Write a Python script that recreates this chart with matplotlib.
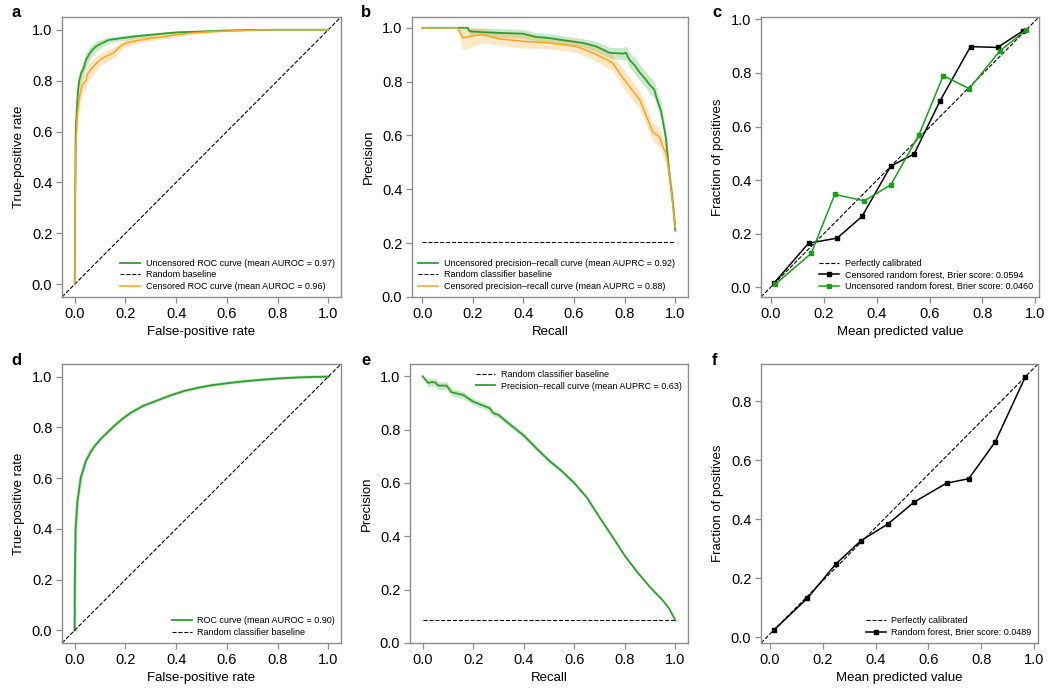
import matplotlib
matplotlib.use("Agg")
import matplotlib.pyplot as plt
import numpy as np

plt.rcParams['font.family'] = ['Liberation Sans', 'DejaVu Sans']

# ---------------- data ----------------
# Panel a: ROC (censored vs uncensored)
a_fpr_unc = [0, 0.002, 0.004, 0.009, 0.013, 0.018, 0.026, 0.036, 0.044, 0.055, 0.069, 0.085, 0.103,
             0.135, 0.17, 0.209, 0.25, 0.3, 0.35, 0.407, 0.5, 0.6, 0.7, 0.8, 0.9, 1.0]
a_tpr_unc = [0, 0.33, 0.6, 0.7, 0.76, 0.8, 0.83, 0.85, 0.88, 0.9, 0.92, 0.935, 0.945,
             0.96, 0.965, 0.97, 0.975, 0.98, 0.985, 0.99, 0.993, 0.997, 0.999, 1.0, 1.0, 1.0]
a_band_unc = [0, 0.03, 0.04, 0.04, 0.04, 0.035, 0.03, 0.03, 0.03, 0.025, 0.022, 0.02, 0.016,
              0.012, 0.01, 0.01, 0.008, 0.006, 0.005, 0.004, 0.003, 0.002, 0.001, 0, 0, 0]
a_fpr_cen = [0, 0.002, 0.005, 0.01, 0.017, 0.022, 0.03, 0.045, 0.05, 0.065, 0.077, 0.09, 0.103, 0.12,
             0.143, 0.155, 0.176, 0.196, 0.22, 0.249, 0.293, 0.34, 0.4, 0.473, 0.55, 0.65, 0.75, 0.85, 1.0]
a_tpr_cen = [0, 0.3, 0.55, 0.66, 0.72, 0.75, 0.785, 0.8, 0.826, 0.845, 0.859, 0.872, 0.885, 0.893,
             0.905, 0.91, 0.932, 0.945, 0.952, 0.958, 0.966, 0.971, 0.98, 0.988, 0.993, 0.997, 1.0, 1.0, 1.0]
a_band_cen = [0, 0.03, 0.04, 0.045, 0.045, 0.04, 0.035, 0.035, 0.03, 0.03, 0.03, 0.028, 0.025, 0.025,
              0.022, 0.02, 0.018, 0.015, 0.014, 0.012, 0.01, 0.009, 0.008, 0.006, 0.004, 0.002, 0, 0, 0]

# Panel b: precision-recall (censored vs uncensored)
b_rec_unc = [0, 0.18, 0.187, 0.25, 0.305, 0.397, 0.45, 0.5, 0.555, 0.634, 0.687, 0.74, 0.792, 0.805,
             0.818, 0.84, 0.858, 0.884, 0.897, 0.917, 0.924, 0.944, 0.95, 0.963, 0.976, 0.99, 1.0]
b_prec_unc = [1.0, 1.0, 0.987, 0.983, 0.981, 0.978, 0.966, 0.962, 0.954, 0.944, 0.931, 0.907, 0.904, 0.907,
              0.882, 0.86, 0.835, 0.807, 0.79, 0.77, 0.745, 0.689, 0.657, 0.589, 0.46, 0.352, 0.247]
b_band_unc = [0, 0, 0.012, 0.015, 0.016, 0.016, 0.016, 0.016, 0.016, 0.016, 0.018, 0.02, 0.022, 0.025,
              0.028, 0.03, 0.03, 0.03, 0.03, 0.03, 0.03, 0.03, 0.03, 0.03, 0.03, 0.025, 0.02]
b_rec_cen = [0, 0.14, 0.16, 0.2, 0.24, 0.305, 0.397, 0.5, 0.608, 0.674, 0.727, 0.752, 0.77, 0.792,
             0.805, 0.832, 0.858, 0.871, 0.884, 0.897, 0.91, 0.937, 0.95, 0.963, 0.97, 0.976, 0.983, 0.996, 1.0]
b_prec_cen = [1.0, 1.0, 0.963, 0.97, 0.975, 0.959, 0.95, 0.944, 0.931, 0.907, 0.882, 0.87, 0.845, 0.815,
              0.8, 0.765, 0.735, 0.707, 0.676, 0.645, 0.614, 0.595, 0.56, 0.535, 0.5, 0.458, 0.402, 0.29, 0.26]
b_band_cen = [0, 0, 0.045, 0.04, 0.03, 0.025, 0.025, 0.022, 0.022, 0.025, 0.028, 0.03, 0.032, 0.035,
              0.035, 0.035, 0.035, 0.035, 0.035, 0.035, 0.035, 0.035, 0.035, 0.035, 0.035, 0.035, 0.035, 0.03, 0.02]
b_baseline = 0.204

# Panel c: calibration curves
c_pred_cen = [0.011, 0.143, 0.251, 0.345, 0.453, 0.542, 0.64, 0.755, 0.857, 0.952]
c_frac_cen = [0.015, 0.165, 0.184, 0.265, 0.452, 0.498, 0.696, 0.898, 0.895, 0.956]
c_pred_unc = [0.017, 0.153, 0.242, 0.354, 0.454, 0.56, 0.652, 0.75, 0.865, 0.966]
c_frac_unc = [0.012, 0.127, 0.347, 0.323, 0.383, 0.569, 0.79, 0.741, 0.881, 0.961]

# Panel d: ROC
d_fpr = [0, 0.0005, 0.002, 0.004, 0.011, 0.024, 0.044, 0.063, 0.08, 0.103, 0.13, 0.156, 0.19,
         0.222, 0.27, 0.328, 0.38, 0.433, 0.49, 0.539, 0.6, 0.671, 0.74, 0.803, 0.9, 1.0]
d_tpr = [0, 0.15, 0.3, 0.404, 0.509, 0.601, 0.667, 0.703, 0.728, 0.755, 0.781, 0.806, 0.835,
         0.858, 0.885, 0.907, 0.927, 0.944, 0.957, 0.966, 0.974, 0.982, 0.988, 0.993, 0.998, 1.0]

# Panel e: precision-recall
e_rec = [0, 0.022, 0.035, 0.049, 0.062, 0.095, 0.114, 0.16, 0.2, 0.266, 0.279, 0.3, 0.345, 0.4,
         0.45, 0.5, 0.55, 0.6, 0.65, 0.7, 0.75, 0.8, 0.85, 0.9, 0.95, 0.975, 1.0]
e_prec = [1.0, 0.975, 0.978, 0.977, 0.965, 0.965, 0.94, 0.93, 0.905, 0.88, 0.862, 0.855, 0.82, 0.778,
          0.73, 0.684, 0.645, 0.6, 0.545, 0.471, 0.4, 0.327, 0.265, 0.209, 0.16, 0.13, 0.085]
e_band = [0.005, 0.015, 0.015, 0.015, 0.015, 0.014, 0.014, 0.013, 0.012, 0.012, 0.011, 0.011, 0.01, 0.01,
          0.009, 0.009, 0.008, 0.008, 0.007, 0.007, 0.006, 0.005, 0.005, 0.004, 0.004, 0.003, 0.002]
e_baseline = 0.085

# Panel f: calibration
f_pred = [0.015, 0.143, 0.249, 0.345, 0.446, 0.546, 0.668, 0.752, 0.852, 0.966]
f_frac = [0.024, 0.133, 0.248, 0.328, 0.384, 0.459, 0.523, 0.538, 0.663, 0.884]

# ---------------- style ----------------
GREEN = '#2ca02c'
ORANGE = '#ffa31a'
CAL_GREEN = '#16a016'
SPINE = '#8c8c8c'

fig = plt.figure(figsize=(10.5, 6.88), dpi=100)
W, H = 1050, 688


def add_ax(x0, y0, x1, y1):
    return fig.add_axes([x0 / W, 1 - y1 / H, (x1 - x0) / W, (y1 - y0) / H])


def style(ax, xlabel, ylabel, letter, lx, ly):
    for s in ax.spines.values():
        s.set_color(SPINE)
        s.set_linewidth(1.0)
    ax.tick_params(axis='both', which='both', direction='out', length=4, width=0.9,
                   color=SPINE, labelsize=10.5, labelcolor='black', pad=3)
    ax.set_xlabel(xlabel, fontsize=9.5, labelpad=4)
    ax.set_ylabel(ylabel, fontsize=9.5, labelpad=5)
    fig.text(lx / W, 1 - ly / H, letter, fontsize=12, fontweight='bold',
             va='baseline', ha='left')


def legend(ax, loc, **kw):
    return ax.legend(loc=loc, frameon=False, fontsize=6.5, handlelength=2.2, handletextpad=0.6,
                     labelspacing=0.25, borderaxespad=0.3, **kw)

ticks = [0.0, 0.2, 0.4, 0.6, 0.8, 1.0]

# Panel a
ax = add_ax(62, 17, 341, 297)
ax.fill_between(a_fpr_unc, np.array(a_tpr_unc) - a_band_unc, np.minimum(np.array(a_tpr_unc) + a_band_unc, 1.0),
                color=GREEN, alpha=0.25, lw=0)
ax.fill_between(a_fpr_cen, np.array(a_tpr_cen) - a_band_cen, np.minimum(np.array(a_tpr_cen) + a_band_cen, 1.0),
                color=ORANGE, alpha=0.25, lw=0)
ax.plot(a_fpr_unc, a_tpr_unc, color=GREEN, lw=1.3, label='Uncensored ROC curve (mean AUROC = 0.97)')
ax.plot([0, 1], [0, 1], transform=ax.transAxes, ls='--', color='black', lw=0.8, label='Random baseline')
ax.plot(a_fpr_cen, a_tpr_cen, color=ORANGE, lw=1.1, label='Censored ROC curve (mean AUROC = 0.96)')
ax.set_xlim(-0.05, 1.05); ax.set_ylim(-0.05, 1.05)
ax.set_xticks(ticks); ax.set_yticks(ticks)
style(ax, 'False-positive rate', 'True-positive rate', 'a', 11, 17)
legend(ax, 'lower right')

# Panel b
ax = add_ax(412, 17, 688, 297)
ax.fill_between(b_rec_unc, np.array(b_prec_unc) - b_band_unc, np.minimum(np.array(b_prec_unc) + b_band_unc, 1.0),
                color=GREEN, alpha=0.25, lw=0)
ax.fill_between(b_rec_cen, np.array(b_prec_cen) - b_band_cen, np.minimum(np.array(b_prec_cen) + b_band_cen, 1.0),
                color=ORANGE, alpha=0.25, lw=0)
ax.plot(b_rec_unc, b_prec_unc, color=GREEN, lw=1.3,
        label='Uncensored precision\u2013recall curve (mean AUPRC = 0.92)')
ax.plot([0, 1], [b_baseline, b_baseline], ls='--', color='black', lw=0.8, label='Random classifier baseline')
ax.plot(b_rec_cen, b_prec_cen, color=ORANGE, lw=1.1,
        label='Censored precision\u2013recall curve (mean AUPRC = 0.88)')
ax.set_xlim(-0.04, 1.05); ax.set_ylim(0, 1.04)
ax.set_xticks(ticks); ax.set_yticks(ticks)
style(ax, 'Recall', 'Precision', 'b', 361, 17)
legend(ax, 'lower left')

# Panel c
ax = add_ax(761, 17, 1039, 297)
ax.plot([0, 1], [0, 1], transform=ax.transAxes, ls='--', color='black', lw=0.8, label='Perfectly calibrated')
ax.plot(c_pred_cen, c_frac_cen, marker='s', ms=3.5, color='black', lw=1.1,
        label='Censored random forest, Brier score: 0.0594')
ax.plot(c_pred_unc, c_frac_unc, marker='s', ms=3.5, color=CAL_GREEN, lw=1.1,
        label='Uncensored random forest, Brier score: 0.0460')
ax.set_xticks(ticks); ax.set_yticks(ticks)
style(ax, 'Mean predicted value', 'Fraction of positives', 'c', 712, 17)
legend(ax, 'lower right')

# Panel d
ax = add_ax(62, 364, 341, 643)
ax.plot(d_fpr, d_tpr, color=GREEN, lw=2.4, alpha=0.25)
ax.plot(d_fpr, d_tpr, color=GREEN, lw=1.3, label='ROC curve (mean AUROC = 0.90)')
ax.plot([0, 1], [0, 1], transform=ax.transAxes, ls='--', color='black', lw=0.8, label='Random classifier baseline')
ax.set_xlim(-0.05, 1.05); ax.set_ylim(-0.05, 1.05)
ax.set_xticks(ticks); ax.set_yticks(ticks)
style(ax, 'False-positive rate', 'True-positive rate', 'd', 11, 365)
legend(ax, 'lower right')

# Panel e
ax = add_ax(410, 364, 688, 643)
ax.fill_between(e_rec, np.array(e_prec) - e_band, np.minimum(np.array(e_prec) + e_band, 1.0),
                color=GREEN, alpha=0.25, lw=0)
ax.plot([0, 1], [e_baseline, e_baseline], ls='--', color='black', lw=0.8, label='Random classifier baseline')
ax.plot(e_rec, e_prec, color=GREEN, lw=1.3, label='Precision\u2013recall curve (mean AUPRC = 0.63)')
ax.set_xlim(-0.05, 1.05); ax.set_ylim(0, 1.046)
ax.set_xticks(ticks); ax.set_yticks(ticks)
style(ax, 'Recall', 'Precision', 'e', 361, 365)
legend(ax, 'upper right')

# Panel f
ax = add_ax(761, 364, 1038, 643)
ax.plot([0, 1], [0, 1], transform=ax.transAxes, ls='--', color='black', lw=0.8, label='Perfectly calibrated')
ax.plot(f_pred, f_frac, marker='s', ms=3.5, color='black', lw=1.1,
        label='Random forest, Brier score: 0.0489')
ax.set_xticks(ticks); ax.set_yticks([0.0, 0.2, 0.4, 0.6, 0.8])
style(ax, 'Mean predicted value', 'Fraction of positives', 'f', 712, 365)
legend(ax, 'lower right')

fig.savefig('out.png', dpi=100)
